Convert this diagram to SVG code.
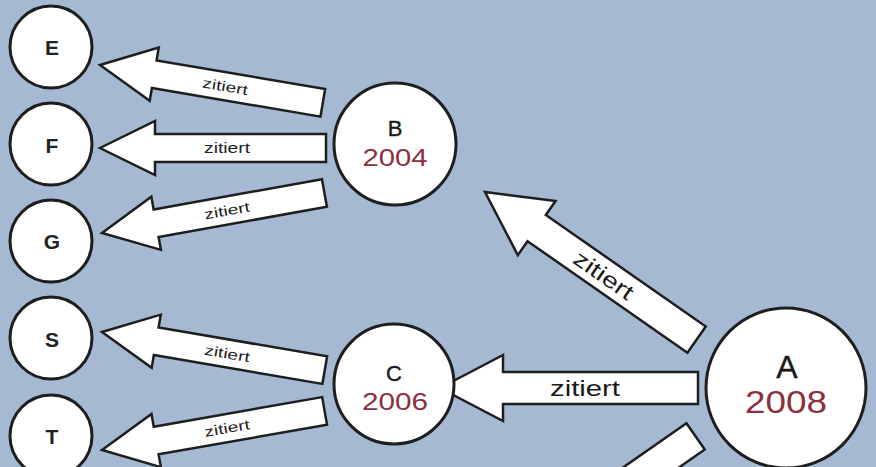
<svg xmlns="http://www.w3.org/2000/svg" xmlns:xlink="http://www.w3.org/1999/xlink" width="876" height="467" viewBox="0 0 876 467">
<style>
.bg{fill:#a5b9d3}
.node{fill:#fff;stroke:#1e1e1e;stroke-width:3}
.arr{fill:#fff;stroke:#1e1e1e;stroke-width:2.5;stroke-linejoin:miter}
.sl{font-family:"Liberation Sans",Arial,sans-serif;font-weight:bold;font-size:21px;fill:#222;text-anchor:middle}
.bl{font-family:"Liberation Sans",Arial,sans-serif;font-size:22px;fill:#1a1a1a;text-anchor:middle;stroke:#1a1a1a;stroke-width:0.4}
.yr{font-family:"Liberation Sans",Arial,sans-serif;font-size:24px;fill:#8c2f3f;text-anchor:middle}
.lab{font-family:"Liberation Sans",Arial,sans-serif;font-size:14px;fill:#222;text-anchor:middle}
.labb{font-family:"Liberation Sans",Arial,sans-serif;font-size:22px;fill:#1a1a1a;text-anchor:middle}
</style>
<defs>
<path id="sa" d="M0,0 L55,-27 L55,-14 L226,-14 L226,14 L55,14 L55,27 Z"/>
<path id="ba" d="M0,0 L63,-33 L63,-16 L258,-16 L258,16 L63,16 L63,33 Z"/>
</defs>
<rect class="bg" x="0" y="0" width="876" height="467"/>
<g id="connectors">
<g transform="translate(100,65) rotate(9.63)"><use xlink:href="#sa" class="arr"/><text class="lab" x="127" y="5" textLength="46" lengthAdjust="spacingAndGlyphs">zitiert</text></g>
<g transform="translate(100,148)"><use xlink:href="#sa" class="arr"/><text class="lab" x="127" y="5" textLength="46" lengthAdjust="spacingAndGlyphs">zitiert</text></g>
<g transform="translate(102,233) rotate(-10.2)"><use xlink:href="#sa" class="arr"/><text class="lab" x="127" y="5" textLength="46" lengthAdjust="spacingAndGlyphs">zitiert</text></g>
<g transform="translate(102,332) rotate(9.7)"><use xlink:href="#sa" class="arr"/><text class="lab" x="127" y="5" textLength="46" lengthAdjust="spacingAndGlyphs">zitiert</text></g>
<g transform="translate(102,450) rotate(-9.96)"><use xlink:href="#sa" class="arr"/><text class="lab" x="127" y="5" textLength="46" lengthAdjust="spacingAndGlyphs">zitiert</text></g>
<g transform="translate(440,388)"><use xlink:href="#ba" class="arr"/><text class="labb" x="145" y="8" textLength="70" lengthAdjust="spacingAndGlyphs">zitiert</text></g>
<g transform="translate(485,192) rotate(34.9)"><use xlink:href="#ba" class="arr"/><text class="labb" x="145" y="8" textLength="68" lengthAdjust="spacingAndGlyphs">zitiert</text></g>
<g transform="translate(484,584) rotate(-34.9)"><use xlink:href="#ba" class="arr"/></g>
</g>
<g id="node-E"><circle class="node" cx="51" cy="47" r="41"/><text class="sl" x="52" y="55">E</text></g>
<g id="node-F"><circle class="node" cx="51" cy="144" r="41"/><text class="sl" x="52" y="153">F</text></g>
<g id="node-G"><circle class="node" cx="51" cy="241" r="41"/><text class="sl" x="52" y="249">G</text></g>
<g id="node-S"><circle class="node" cx="51" cy="338" r="41"/><text class="sl" x="52" y="347">S</text></g>
<g id="node-T"><circle class="node" cx="51" cy="436" r="41"/><text class="sl" x="52" y="444">T</text></g>
<g id="node-B"><circle class="node" cx="395" cy="144" r="61"/><text class="bl" x="395" y="136">B</text><text class="yr" x="395" y="166" textLength="65" lengthAdjust="spacingAndGlyphs">2004</text></g>
<g id="node-C"><circle class="node" cx="394" cy="384" r="60"/><text class="bl" x="394" y="381">C</text><text class="yr" x="395" y="410" textLength="66" lengthAdjust="spacingAndGlyphs">2006</text></g>
<g id="node-A"><circle class="node" cx="786" cy="388" r="80"/><text class="bl" x="787" y="378" style="font-size:32px">A</text><text class="yr" x="786" y="413" style="font-size:32px" textLength="82" lengthAdjust="spacingAndGlyphs">2008</text></g>
</svg>
